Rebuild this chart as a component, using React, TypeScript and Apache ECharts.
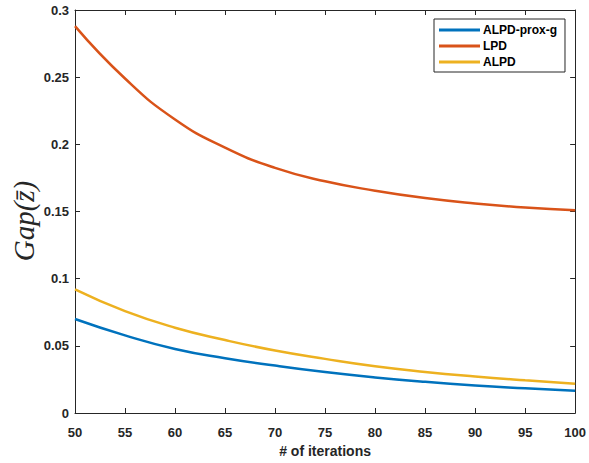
import React, { useEffect, useRef } from "react";
import * as echarts from "echarts";

const iterations = [50, 55, 60, 65, 70, 75, 80, 85, 90, 95, 100];
const alpdProxG = [0.07, 0.0578, 0.0477, 0.0408, 0.0353, 0.0305, 0.0265, 0.0232, 0.0205, 0.0184, 0.0165];
const lpd = [0.288, 0.249, 0.2185, 0.1975, 0.1825, 0.1725, 0.1655, 0.16, 0.156, 0.153, 0.151];
const alpd = [0.092, 0.0758, 0.0635, 0.0543, 0.0465, 0.0403, 0.0348, 0.0306, 0.0272, 0.0243, 0.0217];

const seriesNames = ["ALPD-prox-g", "LPD", "ALPD"];
const seriesColors = ["#0072BD", "#D95319", "#EDB120"];
const yAxisTitle = "Gap(z\u0304)";
const xAxisTitle = "# of iterations";

const AX = "#262626";
const FONT = "'Liberation Sans', Arial, Helvetica, sans-serif";

export default function App() {
  const ref = useRef<HTMLDivElement>(null);
  useEffect(() => {
    if (!ref.current) return;
    const chart = echarts.init(ref.current, undefined, { renderer: "svg" });
    const values = [alpdProxG, lpd, alpd];
    const axisCommon = {
      type: "value" as const,
      axisLine: { show: true, onZero: false, lineStyle: { color: AX, width: 1 } },
      axisTick: { show: true, inside: true, length: 5, lineStyle: { color: AX } },
      splitLine: { show: false },
    };
    chart.setOption({
      animation: false,
      backgroundColor: "#ffffff",
      textStyle: { fontFamily: FONT },
      grid: { left: 75, right: 13, top: 10, bottom: 47, containLabel: false },
      legend: {
        show: true,
        orient: "vertical",
        left: 434,
        top: 19,
        data: seriesNames,
        icon: "rect",
        itemWidth: 41,
        itemHeight: 3,
        itemGap: 4,
        padding: [5, 8, 4, 5],
        borderColor: AX,
        borderWidth: 1,
        backgroundColor: "#ffffff",
        textStyle: { fontFamily: FONT, fontWeight: "bold", fontSize: 12, color: "#000", padding: [0, 0, 0, -2] },
      },
      graphic: [
        {
          type: "text",
          x: 24,
          y: 221,
          rotation: Math.PI / 2,
          style: {
            text: yAxisTitle,
            fill: AX,
            font: "italic 29px 'Liberation Serif', 'DejaVu Serif', serif",
            textAlign: "center",
            textVerticalAlign: "middle",
          },
        },
      ],
      xAxis: [
        {
          ...axisCommon,
          min: 50,
          max: 100,
          interval: 5,
          position: "bottom",
          axisLabel: { color: AX, fontWeight: "bold", fontSize: 13, fontFamily: FONT, margin: 13 },
          name: xAxisTitle,
          nameLocation: "middle",
          nameGap: 31,
          nameTextStyle: { color: AX, fontWeight: "bold", fontSize: 14, fontFamily: FONT },
        },
        {
          ...axisCommon,
          min: 50,
          max: 100,
          interval: 5,
          position: "top",
          axisLabel: { show: false },
        },
      ],
      yAxis: [
        {
          ...axisCommon,
          min: 0,
          max: 0.3,
          interval: 0.05,
          position: "left",
          axisLabel: { color: AX, fontWeight: "bold", fontSize: 13, fontFamily: FONT, margin: 6 },
        },
        {
          ...axisCommon,
          min: 0,
          max: 0.3,
          interval: 0.05,
          position: "right",
          axisLabel: { show: false },
        },
      ],
      series: seriesNames.map((name, i) => ({
        name,
        type: "line",
        smooth: 0.5,
        showSymbol: false,
        symbol: "none",
        xAxisIndex: 0,
        yAxisIndex: 0,
        data: iterations.map((x, j) => [x, values[i][j]]),
        lineStyle: { color: seriesColors[i], width: 2.5 },
        itemStyle: { color: seriesColors[i] },
      })),
    });
    return () => chart.dispose();
  }, []);
  return <div ref={ref} style={{ width: 589, height: 463, position: "absolute", left: 0, top: 0 }} />;
}
